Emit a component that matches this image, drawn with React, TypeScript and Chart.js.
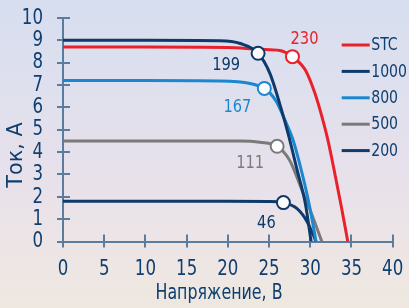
import React, { useEffect, useRef } from "react";
import { Chart, registerables } from "chart.js";

Chart.register(...registerables);

// ---- data ----
const seriesLabels = ["STC", "1000", "800", "500", "200"];

const stcV = [0, 10, 20, 24, 26.3, 27.84, 29.4, 30.5, 31.2, 32.1, 33.0, 33.8, 34.55];
const stcI = [8.7, 8.7, 8.68, 8.6, 8.55, 8.27, 7.67, 6.7, 5.87, 4.6, 3.0, 1.5, 0];

const g1000V = [0, 10, 19, 21.5, 23.67, 25.1, 26.5, 27.4, 28.4, 29.4, 30.1];
const g1000I = [9.0, 9.0, 8.98, 8.86, 8.42, 7.52, 5.9, 4.7, 3.2, 1.7, 0];

const g800V = [0, 10, 19, 22.7, 24.43, 25.1, 25.9, 26.9, 27.9, 28.9, 29.9, 30.7];
const g800I = [7.2, 7.2, 7.18, 7.07, 6.85, 6.65, 6.25, 5.45, 4.55, 3.2, 1.6, 0];

const g500V = [0, 10, 21.5, 23.9, 25.98, 27.5, 29.0, 30.2, 31.4];
const g500I = [4.5, 4.5, 4.5, 4.44, 4.26, 3.63, 2.29, 1.2, 0];

const g200V = [0, 20, 25, 26.74, 28.4, 29.6, 30.7];
const g200I = [1.8, 1.8, 1.79, 1.74, 1.47, 0.9, 0];

// index of the maximum power point in each series, and its label (W)
const mppIndex = [5, 4, 4, 4, 3];
const mppLabels = ["230", "199", "167", "111", "46"];

const xTickValues = [0, 5, 10, 15, 20, 25, 30, 35, 40];
const yTickValues = [0, 1, 2, 3, 4, 5, 6, 7, 8, 9, 10];

const xTitle = "Напряжение, В";
const yTitle = "Ток, А";

// ---- styles ----
const colors = ["#e8212b", "#0d3a6b", "#1b87d0", "#7a7a7a", "#0d3a6b"];
const drawOrder = [5, 1, 2, 3, 4]; // lower = drawn on top
const axisColor = "#5b7c9d";
const textColor = "#0f3e70";
const fontFamily = "'DejaVu Sans Condensed', 'Liberation Sans Narrow', sans-serif";
// offset of each MPP label from its point (px)
const labelOffsets: [number, number][] = [
  [12, -17],
  [-32, 12],
  [-27, 19],
  [-27, 17],
  [-17, 21],
];

const allV = [stcV, g1000V, g800V, g500V, g200V];
const allI = [stcI, g1000I, g800I, g500I, g200I];

function drawText(
  ctx: CanvasRenderingContext2D,
  text: string,
  x: number,
  y: number,
  size: number,
  color: string,
  align: CanvasTextAlign,
  sx: number,
  rot = 0
) {
  ctx.save();
  ctx.translate(x, y);
  if (rot) ctx.rotate(rot);
  ctx.scale(sx, 1);
  ctx.font = `${size}px ${fontFamily}`;
  ctx.fillStyle = color;
  ctx.textAlign = align;
  ctx.textBaseline = "middle";
  ctx.fillText(text, 0, 0);
  ctx.restore();
}

const decorPlugin = {
  id: "decor",
  beforeDatasetsDraw(chart: any) {
    const { ctx, chartArea, scales } = chart;
    const x = scales.x;
    const y = scales.y;
    ctx.save();
    ctx.strokeStyle = axisColor;
    ctx.lineWidth = 2;
    x.ticks.forEach((t: any) => {
      const px = Math.round(x.getPixelForValue(t.value));
      ctx.beginPath();
      ctx.moveTo(px, chartArea.bottom);
      ctx.lineTo(px, chartArea.bottom - 7);
      ctx.stroke();
    });
    y.ticks.forEach((t: any) => {
      const py = Math.round(y.getPixelForValue(t.value));
      ctx.beginPath();
      ctx.moveTo(chartArea.left, py);
      ctx.lineTo(chartArea.left + 7, py);
      ctx.stroke();
    });
    ctx.restore();
    // tick labels, placed from the scales
    x.ticks.forEach((t: any) => {
      drawText(ctx, String(t.value), x.getPixelForValue(t.value), chartArea.bottom + 28, 22, textColor, "center", 0.84);
    });
    y.ticks.forEach((t: any) => {
      drawText(ctx, String(t.value), chartArea.left - 20, y.getPixelForValue(t.value), 22, textColor, "right", 0.84);
    });
    // axis titles
    drawText(ctx, xTitle, chartArea.left + 156, chartArea.bottom + 52, 20.5, textColor, "center", 0.86);
    drawText(ctx, yTitle, 16, chartArea.top + 137, 22, textColor, "center", 1.05, -Math.PI / 2);
  },
  afterDatasetsDraw(chart: any) {
    const { ctx, chartArea } = chart;
    // MPP labels
    chart.data.datasets.forEach((ds: any, i: number) => {
      const meta = chart.getDatasetMeta(i);
      const pt = meta.data[mppIndex[i]];
      if (!pt) return;
      drawText(ctx, mppLabels[i], pt.x + labelOffsets[i][0], pt.y + labelOffsets[i][1], 18.5, ds.borderColor, "center", 0.88);
    });
    // legend
    const lx = chartArea.right - 51;
    const ly = chartArea.top + 27;
    const step = 26.4;
    chart.data.datasets.forEach((ds: any, i: number) => {
      const yy = ly + i * step;
      ctx.save();
      ctx.strokeStyle = ds.borderColor;
      ctx.lineWidth = 3;
      ctx.beginPath();
      ctx.moveTo(lx, yy);
      ctx.lineTo(lx + 28, yy);
      ctx.stroke();
      ctx.restore();
      drawText(ctx, ds.label, lx + 29.5, yy + 0.5, 18, textColor, "left", 0.87);
    });
  },
};

export default function App() {
  const ref = useRef<HTMLCanvasElement | null>(null);

  useEffect(() => {
    document.body.style.margin = "0";
    if (!ref.current) return;
    const datasets = seriesLabels.map((label, i) => ({
      label,
      order: drawOrder[i],
      data: allV[i].map((v, k) => ({ x: v, y: allI[i][k] })),
      borderColor: colors[i],
      borderWidth: 3,
      cubicInterpolationMode: "monotone" as const,
      fill: false,
      pointRadius: allV[i].map((_, k) => (k === mppIndex[i] ? 6.5 : 0)),
      pointBackgroundColor: "#ffffff",
      pointBorderColor: colors[i],
      pointBorderWidth: 2,
    }));
    const chart = new Chart(ref.current, {
      type: "line",
      data: { datasets },
      options: {
        animation: false,
        responsive: false,
        devicePixelRatio: 1,
        events: [],
        layout: { padding: { left: 0, right: 16.3, top: 18, bottom: 0 } },
        plugins: {
          legend: { display: false },
          tooltip: { enabled: false },
        },
        scales: {
          x: {
            type: "linear",
            min: 0,
            max: 40,
            afterBuildTicks: (s: any) => {
              s.ticks = xTickValues.map((v) => ({ value: v }));
            },
            afterFit: (s: any) => {
              s.height = 66.5;
            },
            ticks: { display: false },
            grid: { drawOnChartArea: false, color: axisColor, lineWidth: 2, tickLength: 6 },
            border: { color: axisColor, width: 2 },
          },
          y: {
            type: "linear",
            min: 0,
            max: 10,
            afterBuildTicks: (s: any) => {
              s.ticks = yTickValues.map((v) => ({ value: v }));
            },
            afterFit: (s: any) => {
              s.width = 63;
            },
            ticks: { display: false },
            grid: { drawOnChartArea: false, color: axisColor, lineWidth: 2, tickLength: 6 },
            border: { color: axisColor, width: 2 },
          },
        },
      },
      plugins: [decorPlugin],
    });
    return () => chart.destroy();
  }, []);

  return (
    <div
      style={{
        position: "absolute",
        left: 0,
        top: 0,
        width: 409,
        height: 308,
        background:
          "linear-gradient(180deg, #d7deef 0%, #dfe0ee 30%, #e8e1ea 60%, #ede5e5 80%, #eee8e0 100%)",
      }}
    >
      <canvas ref={ref} width={409} height={308} style={{ display: "block" }} />
    </div>
  );
}
